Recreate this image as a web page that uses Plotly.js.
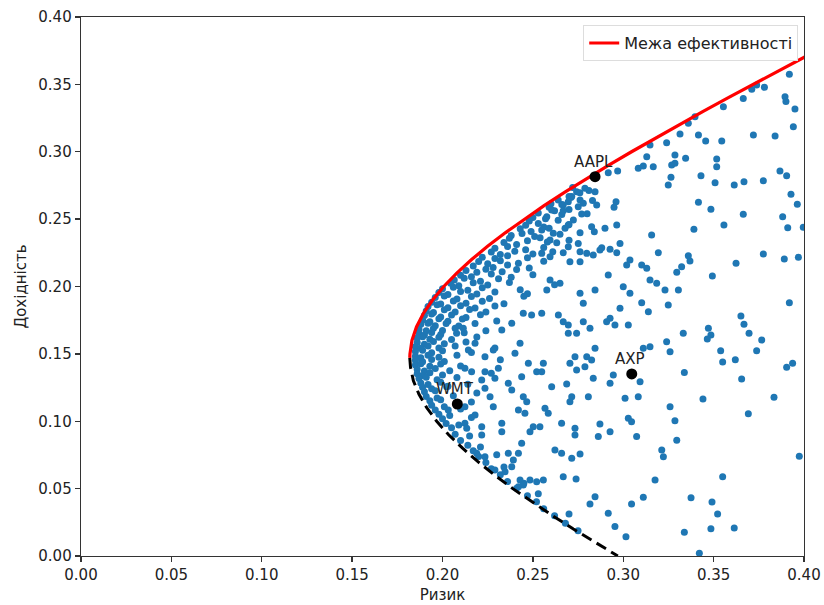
<!DOCTYPE html>
<html>
<head>
<meta charset="utf-8">
<script src="https://cdn.plot.ly/plotly-3.0.1.min.js"></script>
<style>html,body{margin:0;padding:0;background:#fff;}#chart{width:824px;height:605px;}</style>
</head>
<body>
<div id="chart"></div>
<script>
// Efficient frontier (upper, red): return -> risk
const frontierReturn = [0.147,0.15,0.16,0.17,0.18,0.19,0.20,0.21,0.22,0.23,0.24,0.25,0.26,0.27,0.28,0.29,0.30,0.31,0.32,0.33,0.34,0.35,0.36,0.37,0.372];
const frontierRisk   = [0.1819,0.1820,0.1831,0.1856,0.1894,0.1945,0.2007,0.2079,0.2161,0.2251,0.2349,0.2453,0.2562,0.2677,0.2797,0.2920,0.3046,0.3176,0.3308,0.3442,0.3579,0.3717,0.3857,0.4000,0.4028];
// Lower (inefficient, dashed) branch
const lowerReturn = [0.147,0.14,0.13,0.12,0.11,0.10,0.09,0.08,0.07,0.06,0.05,0.04,0.03,0.02,0.01,0.00];
const lowerRisk   = [0.1819,0.1823,0.1839,0.1870,0.1913,0.1968,0.2034,0.2111,0.2196,0.2289,0.2389,0.2496,0.2608,0.2724,0.2845,0.2970];

// Individual assets
const assetNames  = ['AAPL','WMT','AXP'];
const assetRisk   = [0.2844,0.2082,0.3047];
const assetReturn = [0.2815,0.1128,0.1351];

// Random portfolios, [risk, return]: dense band hugging the frontier
const portfoliosDense = [
 [0.272,0.2735],[0.281,0.2712],[0.270,0.2668],[0.276,0.2695],[0.264,0.2642],[0.271,0.2660],[0.283,0.2638],[0.260,0.2615],[0.266,0.2608],
 [0.259,0.2589],[0.270,0.2571],[0.253,0.2546],[0.262,0.2563],[0.280,0.2540],[0.250,0.2512],[0.257,0.2502],[0.266,0.2534],
 [0.248,0.2487],[0.253,0.2468],[0.264,0.2492],[0.246,0.2455],[0.256,0.2441],[0.270,0.2461],[0.243,0.2428],[0.249,0.2409],[0.259,0.2433],
 [0.238,0.2379],[0.244,0.2393],[0.251,0.2371],[0.265,0.2388],[0.237,0.2358],[0.247,0.2339],[0.254,0.2361],[0.270,0.2343],
 [0.234,0.2327],[0.241,0.2311],[0.258,0.2330],[0.229,0.2283],[0.236,0.2296],[0.246,0.2272],[0.256,0.2289],
 [0.227,0.2256],[0.232,0.2238],[0.240,0.2261],[0.250,0.2242],[0.261,0.2258],[0.222,0.2217],[0.229,0.2208],[0.236,0.2229],[0.247,0.2213],
 [0.220,0.2186],[0.225,0.2169],[0.232,0.2191],[0.242,0.2173],[0.256,0.2188],[0.217,0.2152],[0.228,0.2141],[0.236,0.2160],[0.248,0.2137],
 [0.213,0.2119],[0.219,0.2106],[0.224,0.2128],[0.233,0.2109],[0.241,0.2126],[0.210,0.2084],[0.216,0.2072],[0.227,0.2093],[0.238,0.2069],[0.250,0.2087],
 [0.2065,0.2048],[0.212,0.2061],[0.221,0.2039],[0.231,0.2057],[0.2045,0.2025],[0.209,0.2005],[0.217,0.2027],[0.225,0.2011],[0.237,0.2030],[0.262,0.2013],
 [0.200,0.1983],[0.206,0.1995],[0.214,0.1972],[0.222,0.1990],[0.243,0.1976],[0.198,0.1956],[0.203,0.1941],[0.210,0.1962],[0.219,0.1944],[0.229,0.1960],[0.247,0.1947],
 [0.196,0.1918],[0.201,0.1929],[0.208,0.1908],[0.216,0.1926],[0.226,0.1911],[0.245,0.1927],[0.194,0.1884],[0.199,0.1871],[0.206,0.1893],[0.213,0.1876],[0.222,0.1890],[0.234,0.1872],
 [0.192,0.1852],[0.197,0.1864],[0.203,0.1843],[0.210,0.1858],[0.218,0.1840],[0.229,0.1856],[0.191,0.1818],[0.195,0.1807],[0.201,0.1827],[0.207,0.1810],[0.215,0.1829],[0.224,0.1811],
 [0.190,0.1784],[0.194,0.1795],[0.199,0.1773],[0.205,0.1789],[0.213,0.1770],[0.221,0.1791],[0.189,0.1752],[0.193,0.1739],[0.198,0.1760],[0.203,0.1742],[0.211,0.1758],[0.230,0.1744],
 [0.188,0.1719],[0.192,0.1728],[0.196,0.1708],[0.202,0.1725],[0.209,0.1707],[0.218,0.1726],[0.187,0.1683],[0.191,0.1671],[0.195,0.1691],[0.200,0.1674],[0.207,0.1690],[0.224,0.1672],
 [0.187,0.1652],[0.190,0.1640],[0.194,0.1659],[0.199,0.1643],[0.212,0.1657],[0.186,0.1618],[0.189,0.1627],[0.193,0.1609],[0.198,0.1624],[0.205,0.1606],[0.219,0.1625],
 [0.186,0.1584],[0.190,0.1572],[0.195,0.1591],[0.201,0.1575],[0.213,0.1589],[0.185,0.1553],[0.188,0.1541],[0.192,0.1559],[0.198,0.1543],[0.207,0.1558],[0.229,0.1544],
 [0.185,0.1517],[0.189,0.1526],[0.194,0.1508],[0.200,0.1524],[0.216,0.1510],[0.185,0.1483],[0.188,0.1472],[0.192,0.1490],[0.198,0.1475],[0.208,0.1489],
 [0.185,0.1452],[0.189,0.1441],[0.194,0.1459],[0.201,0.1443],[0.232,0.1456],[0.185,0.1418],[0.188,0.1427],[0.193,0.1409],[0.199,0.1425],[0.210,0.1410],
 [0.186,0.1384],[0.190,0.1372],[0.196,0.1391],[0.204,0.1375],[0.186,0.1352],[0.189,0.1340],[0.193,0.1359],[0.200,0.1343],[0.227,0.1357],
 [0.187,0.1318],[0.191,0.1327],[0.197,0.1308],[0.208,0.1325],[0.188,0.1284],[0.192,0.1272],[0.199,0.1290],[0.214,0.1274],
 [0.189,0.1252],[0.194,0.1241],[0.203,0.1259],[0.190,0.1218],[0.196,0.1227],[0.219,0.1209],[0.191,0.1183],[0.197,0.1172],[0.206,0.1190],
 [0.193,0.1152],[0.199,0.1160],[0.216,0.1143],[0.194,0.1118],[0.201,0.1108],[0.196,0.1083],[0.210,0.1091],[0.198,0.1052],[0.204,0.1043],
 [0.200,0.1018],[0.216,0.1027],[0.202,0.0984],[0.209,0.0973],[0.205,0.0952],[0.207,0.0903],[0.215,0.0891],[0.210,0.0858],
 [0.214,0.0821],[0.221,0.0809],[0.217,0.0782],[0.220,0.0738],[0.230,0.0751],[0.224,0.0693],[0.227,0.0648],[0.234,0.0661],[0.232,0.0603],
 [0.236,0.0552],[0.245,0.0540],[0.241,0.0502],[0.247,0.0448],[0.253,0.0462],[0.252,0.0402],[0.256,0.0351],[0.262,0.0298],[0.270,0.0311],[0.268,0.0243],[0.275,0.0188]
];
const portfoliosInner = [
 [0.2078,0.1653],[0.2143,0.1529],[0.2235,0.1479],[0.2281,0.1529],[0.2328,0.1677],[0.2383,0.1727],[0.2447,0.1801],[0.2493,0.1788],[0.2429,0.1579],[0.2475,0.1430],[0.2521,0.1368],[0.2309,0.1393],[0.2235,0.1368],[0.2124,0.1393],[0.2217,0.1306],[0.2364,0.1282],[0.2438,0.1331],[0.2383,0.1232],[0.2235,0.1245],[0.2263,0.1182],[0.2447,0.1182],[0.2032,0.1083],[0.2180,0.1046],[0.2281,0.1108],[0.2420,0.1083],[0.2328,0.0985],[0.2328,0.0923],[0.2217,0.0960],[0.2124,0.0985],[0.2484,0.0923],[0.2438,0.0836],[0.2189,0.0762],[0.2235,0.0737],[0.2364,0.0762],[0.2383,0.0663],[0.2290,0.0638],[0.2429,0.0564],[0.2484,0.0564],
 [0.2134,0.0948],[0.2217,0.0898],[0.2502,0.0960],[0.2392,0.0712],[0.2346,0.0626],[0.2447,0.0527],[0.2521,0.0551],[0.2420,0.0514],[0.2466,0.1145],[0.2456,0.1059],[0.2124,0.1108],[0.2023,0.1256],[0.2420,0.0762],[0.2290,0.1319],[0.2180,0.1579],[0.2115,0.1690],[0.2401,0.1504],[0.2161,0.1368]
];
const portfoliosMiddle = [
 [0.3240,0.3067],[0.3148,0.3050],[0.3130,0.2963],[0.3166,0.2889],[0.3083,0.2877],[0.3111,0.2894],[0.3268,0.2902],[0.2969,0.2857],[0.2917,0.2845],[0.3249,0.2753],[0.3264,0.2810],[0.2844,0.2704],[0.2788,0.2729],[0.2742,0.2704],[0.2715,0.2667],[0.2761,0.2642],[0.2696,0.2629],[0.2668,0.2605],[0.2751,0.2592],[0.2779,0.2618],[0.2853,0.2605],[0.2960,0.2629],[0.2949,0.2588],[0.2604,0.2568],[0.2668,0.2563],[0.2770,0.2538],[0.2577,0.2518],[0.2724,0.2494],[0.2696,0.2456],[0.2678,0.2432],[0.2825,0.2444],[0.2840,0.2407],[0.2899,0.2432],[0.2964,0.2456],[0.3157,0.2382],[0.2549,0.2419],[0.2613,0.2395],[0.2761,0.2399],[0.2595,0.2345],[0.2632,0.2325],[0.2982,0.2320],[0.2751,0.2320],[0.2696,0.2295],[0.2881,0.2288],[0.2927,0.2276],[0.2761,0.2258],[0.2798,0.2246],[0.2834,0.2234],[0.2964,0.2251],[0.2668,0.2251],[0.2549,0.2246],[0.2595,0.2221],[0.2871,0.2271],[0.3194,0.2251],[0.2705,0.2184],[0.2761,0.2184],[0.3037,0.2197],[0.3019,0.2159],[0.3102,0.2159],[0.3130,0.2135],[0.2917,0.2085],[0.2595,0.2048],[0.2650,0.2024],[0.2844,0.1974],[0.3000,0.1999],[0.3037,0.1950],[0.3148,0.2048],[0.3185,0.2024],[0.2577,0.1974],[0.2761,0.1950],[0.3231,0.1974],
 [0.2779,0.1875],[0.2982,0.1838],[0.3102,0.1880],[0.3249,0.1863],[0.3139,0.1813],[0.2641,0.1788],[0.2668,0.1739],[0.2696,0.1714],[0.2779,0.1739],[0.2816,0.1690],[0.2927,0.1764],[0.2954,0.1714],[0.3028,0.1714],[0.2908,0.1739],[0.2696,0.1653],[0.2742,0.1653],[0.2549,0.1801],[0.2844,0.1541],[0.3148,0.1553],[0.3111,0.1541],[0.3240,0.1590],[0.3259,0.1516],[0.2733,0.1479],[0.2798,0.1479],[0.2825,0.1455],[0.2705,0.1430],[0.2558,0.1430],[0.2549,0.1368],[0.2742,0.1380],[0.2788,0.1405],[0.2834,0.1319],[0.2945,0.1343],[0.2927,0.1282],[0.3093,0.1294],[0.2604,0.1256],[0.2687,0.1276],[0.2807,0.1182],[0.2715,0.1182],[0.2705,0.1145],[0.3010,0.1170],[0.3083,0.1182],[0.3259,0.1108],[0.2567,0.1096],[0.2585,0.1059],[0.3028,0.1022],[0.3046,0.0997],[0.2659,0.0985],[0.2871,0.0980],[0.2733,0.0948],[0.2733,0.0898],[0.2927,0.0923],[0.2862,0.0886],[0.3074,0.0886],[0.2539,0.0960],[0.2622,0.0787],[0.2659,0.0762],[0.2715,0.0725],[0.2761,0.0757],[0.3213,0.0787],[0.3222,0.0737],[0.2558,0.0564],[0.2668,0.0589],[0.2739,0.0571],[0.3176,0.0564],[0.2844,0.0440],[0.2816,0.0386],[0.3046,0.0386],[0.3111,0.0436],[0.2917,0.0317],[0.2954,0.0218],[0.3015,0.0143]
];
const portfoliosOuter = [
 [0.3919,0.1880],[0.3332,0.1653],[0.3471,0.1690],[0.3485,0.1640],[0.3465,0.1610],[0.3651,0.1781],[0.3668,0.1720],[0.3696,0.1653],[0.3766,0.1603],[0.3738,0.1524],[0.3539,0.1524],[0.3550,0.1440],[0.3620,0.1457],[0.3338,0.1361],[0.3655,0.1314],[0.3904,0.1400],[0.3937,0.1430],[0.3441,0.1165],[0.3834,0.1178],[0.3692,0.1056],[0.3286,0.1004],[0.3296,0.0859],[0.3974,0.0740],[0.3550,0.0589],[0.3375,0.0433],[0.3491,0.0401],[0.3522,0.0312],[0.3338,0.0176],[0.3485,0.0203],[0.3614,0.0208],[0.3421,0.0020],
 [0.3919,0.3575],[0.3895,0.3409],[0.3900,0.3372],[0.3950,0.3317],[0.3781,0.3478],[0.3738,0.3495],[0.3711,0.3463],[0.3664,0.3396],[0.3554,0.3334],[0.3941,0.3186],[0.3397,0.3260],[0.3360,0.3211],[0.3314,0.3132],[0.3416,0.3124],[0.3456,0.3080],[0.3545,0.3080],[0.3720,0.3124],[0.3840,0.3117],[0.3286,0.2976],[0.3286,0.2914],[0.3345,0.2951],[0.3517,0.2946],[0.3517,0.2889],[0.3430,0.2822],[0.3508,0.2770],[0.3614,0.2753],[0.3668,0.2778],[0.3775,0.2785],[0.3867,0.2857],[0.3904,0.2822],[0.3928,0.2684],[0.3963,0.2610],[0.3416,0.2625],[0.3485,0.2573],[0.3664,0.2536],[0.3882,0.2518],[0.3910,0.2436],[0.3996,0.2439],[0.3391,0.2424],[0.3557,0.2456],[0.3360,0.2229],[0.3369,0.2189],[0.3323,0.2147],[0.3296,0.2105],[0.3775,0.2241],[0.3624,0.2172],[0.3891,0.2204],[0.3969,0.2217],[0.3493,0.2078],[0.3305,0.1974]
];

// Build scatter arrays
const scatterX = [], scatterY = [];
[portfoliosDense, portfoliosInner, portfoliosMiddle, portfoliosOuter].forEach(g => g.forEach(p => { scatterX.push(p[0]); scatterY.push(p[1]); }));

const FONT = 'DejaVu Sans, sans-serif';
const traces = [
  {x: scatterX, y: scatterY, type: 'scatter', mode: 'markers', showlegend: false,
   marker: {color: '#1f77b4', size: 7, line: {width: 0}}, hoverinfo: 'skip', cliponaxis: true},
  {x: frontierRisk, y: frontierReturn, type: 'scatter', mode: 'lines', name: 'Межа ефективності',
   line: {color: '#ff0000', width: 3.2}},
  {x: lowerRisk, y: lowerReturn, type: 'scatter', mode: 'lines', showlegend: false,
   line: {color: '#000000', width: 3, dash: '11px,6px'}},
  {x: assetRisk, y: assetReturn, type: 'scatter', mode: 'markers', showlegend: false,
   marker: {color: '#000000', size: 11}}
];

const annotations = assetNames.map((n, i) => ({
  x: assetRisk[i], y: assetReturn[i], xref: 'x', yref: 'y', text: n, showarrow: false,
  xanchor: 'center', yanchor: 'bottom', xshift: -2, yshift: 4,
  font: {family: FONT, size: 15, color: '#222'}
}));

const axisCommon = {
  range: [0, 0.4], dtick: 0.05, tick0: 0, tickformat: '.2f',
  showgrid: false, zeroline: false, showline: true, mirror: true,
  linecolor: '#333', linewidth: 1.3, ticks: 'outside', ticklen: 5, tickwidth: 1.3, tickcolor: '#333',
  tickfont: {family: FONT, size: 15, color: '#222'}, fixedrange: true
};

const layout = {
  width: 824, height: 605,
  margin: {l: 81, r: 20, t: 17, b: 49, pad: 0},
  paper_bgcolor: '#ffffff', plot_bgcolor: '#ffffff',
  xaxis: Object.assign({}, axisCommon, {title: {text: 'Ризик', font: {family: FONT, size: 15, color: '#222'}, standoff: 6}}),
  yaxis: Object.assign({}, axisCommon, {title: {text: 'Дохідність', font: {family: FONT, size: 15, color: '#222'}, standoff: 8}}),
  legend: {x: 0.992, xanchor: 'right', y: 0.985, yanchor: 'top', bgcolor: 'rgba(255,255,255,0.9)',
           bordercolor: '#dddddd', borderwidth: 1, font: {family: FONT, size: 16, color: '#222'}},
  annotations: annotations,
  showlegend: true
};

Plotly.newPlot('chart', traces, layout, {displayModeBar: false, staticPlot: true});
</script>
</body>
</html>
